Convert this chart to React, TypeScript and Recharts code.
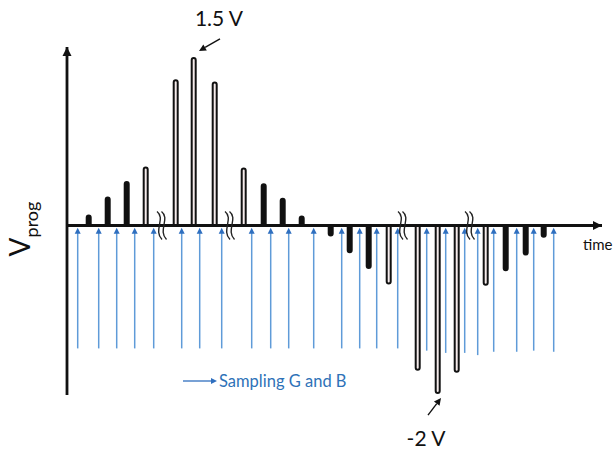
import { Bar, ComposedChart, Legend, ReferenceDot, ReferenceLine, XAxis, YAxis } from "recharts";

// time axis in arbitrary units (axis is broken, so units are schematic)
const pulseTimes = [22, 41, 60, 79, 109, 127, 148, 177, 197, 216, 235, 264, 283, 302, 322, 351, 371, 390, 419, 439, 459, 477];
// drawn pulse height, schematic units (top pulse = 1.5 V, bottom pulse = -2 V)
const pulseLevels = [0.09, 0.25, 0.39, 0.52, 1.3, 1.5, 1.28, 0.51, 0.37, 0.24, 0.08, -0.09, -0.24, -0.38, -0.52, -1.29, -1.5, -1.31, -0.53, -0.4, -0.26, -0.1];
const sampleTimes = [11, 32, 50, 68, 87, 115, 133, 155, 185, 204, 222, 247, 275, 293, 310, 331, 360, 379, 398, 411, 427, 450, 467, 487];
const sampleStart = [-1.1, -1.1, -1.1, -1.1, -1.1, -1.1, -1.1, -1.1, -1.1, -1.1, -1.1, -1.1, -1.1, -1.1, -1.1, -1.1, -1.12, -1.14, -1.14, -1.16, -1.13, -1.13, -1.12, -1.13];
const sampleEnd = -0.02;
const breakTimes = [95, 163, 336, 403];
const peakLabels = [
  { t: 127, v: 1.5, text: "1.5 V" },
  { t: 371, v: -1.5, text: "-2 V" },
];

const xDomain = [0, 535];
const yDomain = [-1.517, 1.598];

const FONT = "Lato, 'Open Sans', sans-serif";
const BLUE = "#5f9bd8";

const rows = [
  ...pulseTimes.map((t, i) => ({ t, pulse: pulseLevels[i] })),
  ...sampleTimes.map((t, i) => ({ t, sample: [sampleStart[i], sampleEnd] })),
].sort((a, b) => a.t - b.t);

const arrow = (x1: number, y1: number, x2: number, y2: number, size: number, color: string) => {
  const a = Math.atan2(y2 - y1, x2 - x1);
  const bx = x2 - size * Math.cos(a);
  const by = y2 - size * Math.sin(a);
  const px = (size / 2) * Math.sin(a);
  const py = (size / 2) * Math.cos(a);
  return (
    <g>
      <line x1={x1} y1={y1} x2={bx} y2={by} stroke={color} strokeWidth={1.4} />
      <polygon points={`${x2},${y2} ${bx + px},${by - py} ${bx - px},${by + py}`} fill={color} />
    </g>
  );
};

const PulseShape = (props: any) => {
  const { x, y, width, height, payload } = props;
  if (payload == null || payload.pulse == null) return <g />;
  const cx = x + width / 2;
  const top = Math.min(y, y + height);
  const bot = Math.max(y, y + height);
  const w = 4;
  const r = w / 2;
  const fill = Math.abs(payload.pulse) < 0.45 ? "#111" : "#f6ecec";
  let d;
  if (payload.pulse > 0) {
    d = `M${cx - r},${bot} L${cx - r},${top + r} A${r},${r} 0 0 1 ${cx + r},${top + r} L${cx + r},${bot}`;
  } else {
    d = `M${cx - r},${top} L${cx - r},${bot - r} A${r},${r} 0 0 0 ${cx + r},${bot - r} L${cx + r},${top}`;
  }
  return <path d={d} fill={fill} stroke="#111" strokeWidth={2} />;
};

const SampleShape = (props: any) => {
  const { x, y, width, height, payload } = props;
  if (payload == null || payload.sample == null) return <g />;
  const cx = x + width / 2;
  const top = Math.min(y, y + height);
  const bot = Math.max(y, y + height);
  return (
    <g>
      <line x1={cx} y1={bot} x2={cx} y2={top + 5} stroke={BLUE} strokeWidth={1.5} />
      <polygon points={`${cx},${top} ${cx - 3},${top + 6} ${cx + 3},${top + 6}`} fill="#2f6fbf" />
    </g>
  );
};

const BreakMark = (props: any) => {
  const { cx, cy } = props;
  const wave = (dx: number) =>
    `M${cx + dx - 3},${cy - 14} C${cx + dx + 6},${cy - 7} ${cx + dx - 7},${cy + 5} ${cx + dx + 2},${cy + 14}`;
  return (
    <g fill="none" stroke="#222" strokeWidth={1.4}>
      <path d={wave(-2)} />
      <path d={wave(2.5)} />
    </g>
  );
};

const XArrowHead = (props: any) => {
  const { cx, cy } = props;
  return (
    <g>
      <polygon points={`${cx},${cy} ${cx - 9},${cy - 4.5} ${cx - 9},${cy + 4.5}`} fill="#111" />
      <text x={cx - 19} y={cy + 24} fontSize={15} fontFamily={FONT} fill="#111">
        time
      </text>
    </g>
  );
};

const YArrowHead = (props: any) => {
  const { cx, cy } = props;
  return <polygon points={`${cx},${cy} ${cx - 4.5},${cy + 9} ${cx + 4.5},${cy + 9}`} fill="#111" />;
};

const PeakNote = (text: string, up: boolean) => (props: any) => {
  const { cx, cy } = props;
  if (up) {
    return (
      <g>
        {arrow(cx + 26, cy - 19, cx + 5, cy - 7, 7, "#111")}
        <text x={cx + 25} y={cy - 32} textAnchor="middle" fontSize={21} fontFamily={FONT} fill="#111">
          {text}
        </text>
      </g>
    );
  }
  return (
    <g>
      {arrow(cx - 10, cy + 22, cx + 3, cy + 5, 7, "#111")}
      <text x={cx - 12} y={cy + 53} textAnchor="middle" fontSize={21} fontFamily={FONT} fill="#111">
        {text}
      </text>
    </g>
  );
};

const SamplingLegend = () => (
  <div style={{ display: "flex", alignItems: "center", fontFamily: FONT }}>
    <svg width={36} height={10}>
      <line x1={0} y1={5} x2={30} y2={5} stroke="#2f6fbf" strokeWidth={1.3} />
      <polygon points="34,5 28,2 28,8" fill="#2f6fbf" />
    </svg>
    <span style={{ color: "#2e72b8", fontSize: 16.5, marginLeft: 0 }}>Sampling G and B</span>
  </div>
);

const App = () => {
  return (
    <div style={{ position: "absolute", left: 0, top: 0, background: "#fff" }}>
      <ComposedChart width={614} height={452} data={rows} margin={{ top: 47, right: 12, bottom: 57, left: 67 }}>
        <XAxis xAxisId="p" type="number" dataKey="t" domain={xDomain} allowDataOverflow hide />
        <XAxis xAxisId="s" type="number" dataKey="t" domain={xDomain} allowDataOverflow hide />
        <YAxis yAxisId="p" type="number" domain={yDomain} allowDataOverflow hide />
        <YAxis yAxisId="s" type="number" domain={yDomain} allowDataOverflow hide />

        <Bar xAxisId="s" yAxisId="s" dataKey="sample" barSize={6} shape={SampleShape} isAnimationActive={false} />
        <Bar xAxisId="p" yAxisId="p" dataKey="pulse" barSize={6} shape={PulseShape} isAnimationActive={false} />

        <ReferenceLine xAxisId="p" yAxisId="p" y={0} stroke="#111" strokeWidth={2.8} />
        <ReferenceLine xAxisId="p" yAxisId="p" x={0} stroke="#111" strokeWidth={2.8} />
        <ReferenceDot xAxisId="p" yAxisId="p" x={xDomain[1]} y={0} ifOverflow="visible" shape={XArrowHead} />
        <ReferenceDot xAxisId="p" yAxisId="p" x={0} y={yDomain[1]} ifOverflow="visible" shape={YArrowHead} />

        {breakTimes.map((t) => (
          <ReferenceDot key={t} xAxisId="p" yAxisId="p" x={t} y={0} ifOverflow="visible" shape={BreakMark} />
        ))}
        {peakLabels.map((p) => (
          <ReferenceDot
            key={p.text}
            xAxisId="p"
            yAxisId="p"
            x={p.t}
            y={p.v}
            ifOverflow="visible"
            shape={PeakNote(p.text, p.v > 0)}
          />
        ))}

        <text transform="translate(30,229) rotate(-90)" textAnchor="middle" fontFamily={FONT} fill="#111">
          <tspan fontSize={28}>V</tspan>
          <tspan fontSize={18} dy={8}>
            prog
          </tspan>
        </text>

        <Legend
          layout="horizontal"
          verticalAlign="middle"
          align="center"
          content={SamplingLegend}
          wrapperStyle={{ left: 183, top: 371, width: 200, height: 20 }}
        />
      </ComposedChart>
    </div>
  );
};

export default App;
